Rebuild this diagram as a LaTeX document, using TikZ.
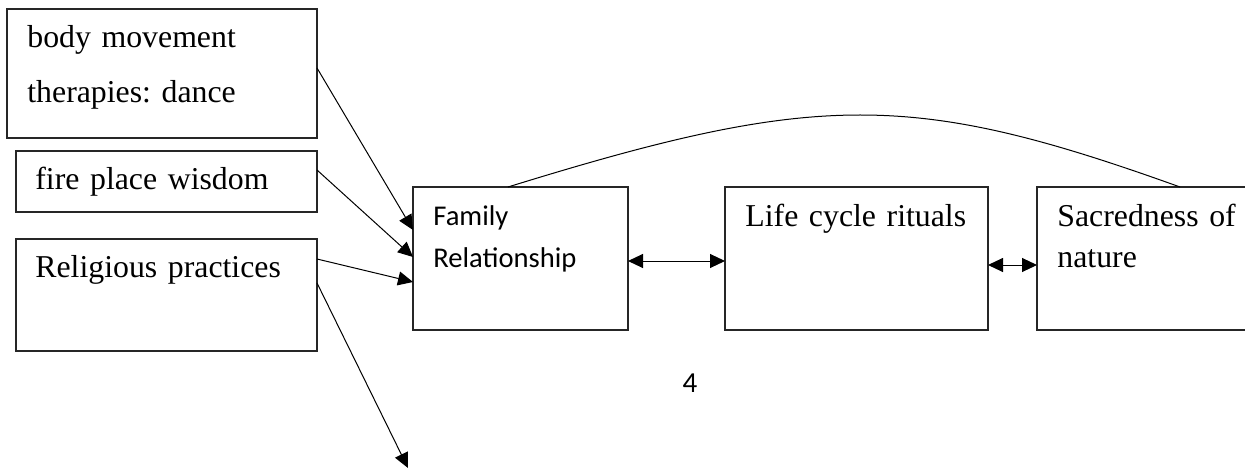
\documentclass[tikz,border=0pt]{standalone}
\usepackage{fontspec}
\setmainfont{Liberation Serif}
\newfontfamily\carlito{Carlito}
\frenchspacing
\usetikzlibrary{
  arrows.meta,
  calc,
}
\tikzset{
  box/.style={draw=black!85, line width=0.6pt, inner sep=0pt, outer sep=0pt},
  serif/.style={inner sep=0pt, anchor=base west, align=left, text width=150pt,
    font=\fontsize{15.9pt}{27.5pt}\selectfont},
  sans/.style={inner sep=0pt, anchor=base west, align=left, text width=100pt,
    font=\carlito\fontsize{14.3pt}{21pt}\selectfont},
  tip/.style={Triangle[length=7.5pt,width=7pt]},
  link/.style={line width=0.5pt, -{Triangle[length=7.5pt,width=7pt]}},
  both/.style={line width=0.5pt, {Triangle[length=7.5pt,width=7pt]}-{Triangle[length=7.5pt,width=7pt]}},
}

\begin{document}
\begin{tikzpicture}[x=0.5pt, y=-0.5pt]
\useasboundingbox (0,0) rectangle (1245,470);
\node[box, minimum width=155pt, minimum height=64.5pt] (body) at (162,73.5) {};
\node[box, minimum width=150.5pt, minimum height=30.5pt] (fire) at (166.5,181.5) {};
\node[box, minimum width=150.5pt, minimum height=56pt] (rel) at (166.5,295) {};
\node[box, minimum width=107.5pt, minimum height=71.5pt] (fam) at (520.5,258.5) {};
\node[box, minimum width=131.5pt, minimum height=71.5pt] (life) at (856.5,258.5) {};
\node[box, minimum width=131.5pt, minimum height=71.5pt] (sac) at (1168.5,258.5) {};
\node[serif] (bodytxt) at (27,48) {body movement\\therapies: dance};
\node[serif] (firetxt) at (35,190) {fire place wisdom};
\node[serif] (reltxt) at (35,277) {Religious practices};
\node[sans] (famtxt) at (433,225) {Family\\Relationship};
\node[serif] (lifetxt) at (745,227) {Life cycle rituals};
\node[serif, font=\fontsize{15.9pt}{20.5pt}\selectfont] (sactxt) at (1057,227) {Sacredness of\\nature};
\node[inner sep=0pt, anchor=base, font=\carlito\fontsize{14.5pt}{17pt}\selectfont] (page) at (690,392) {4};
\coordinate (down) at (408,468);
\draw[link] ([shift={(0,-5.5)}]body.east) -- ([shift={(0,-28.5)}]fam.west);
\draw[link] ([shift={(0,-11.5)}]fire.east) -- ([shift={(0,-1.5)}]fam.west);
\draw[link] ([shift={(0,-36)}]rel.east) -- ([shift={(0,23.5)}]fam.west);
\draw[link] ([shift={(0,-12)}]rel.east) -- (down);
\draw[both] ([shift={(0,2.5)}]fam.east) -- ([shift={(0,2.5)}]life.west);
\draw[both] ([shift={(0,6.5)}]life.east) -- ([shift={(0,6.5)}]sac.west);
\draw[line width=0.5pt] ([shift={(-12.5,0)}]fam.north) .. controls (818,91) and (913,91) .. ([shift={(11.5,0)}]sac.north);
\end{tikzpicture}
\end{document}
